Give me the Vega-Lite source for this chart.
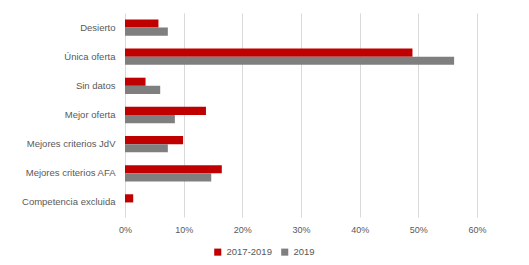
{
  "$schema": "https://vega.github.io/schema/vega-lite/v6.json",
  "width": 352,
  "height": 204,
  "autosize": {"type": "none"},
  "padding": {"left": 125, "top": 13, "right": 52, "bottom": 48},
  "background": "white",
  "data": {
    "values": [
      {"cat": "Desierto", "serie": "2017-2019", "v": 0.057},
      {"cat": "Desierto", "serie": "2019", "v": 0.073},
      {"cat": "Única oferta", "serie": "2017-2019", "v": 0.490},
      {"cat": "Única oferta", "serie": "2019", "v": 0.561},
      {"cat": "Sin datos", "serie": "2017-2019", "v": 0.035},
      {"cat": "Sin datos", "serie": "2019", "v": 0.060},
      {"cat": "Mejor oferta", "serie": "2017-2019", "v": 0.138},
      {"cat": "Mejor oferta", "serie": "2019", "v": 0.085},
      {"cat": "Mejores criterios JdV", "serie": "2017-2019", "v": 0.099},
      {"cat": "Mejores criterios JdV", "serie": "2019", "v": 0.073},
      {"cat": "Mejores criterios AFA", "serie": "2017-2019", "v": 0.165},
      {"cat": "Mejores criterios AFA", "serie": "2019", "v": 0.147},
      {"cat": "Competencia excluida", "serie": "2017-2019", "v": 0.014},
      {"cat": "Competencia excluida", "serie": "2019", "v": 0.0}
    ]
  },
  "mark": {"type": "bar"},
  "encoding": {
    "y": {
      "field": "cat", "type": "nominal", "sort": null, "title": null,
      "scale": {"paddingInner": 0.44, "paddingOuter": 0.22},
      "axis": {"domain": false, "ticks": false, "labelPadding": 10, "labelColor": "#595959", "labelFont": "Liberation Sans", "labelFontSize": 9.5, "grid": false}
    },
    "yOffset": {"field": "serie", "type": "nominal"},
    "x": {
      "field": "v", "type": "quantitative", "title": null,
      "scale": {"domain": [0, 0.6], "nice": false},
      "axis": {"format": ".0%", "tickCount": 7, "values": [0, 0.1, 0.2, 0.3, 0.4, 0.5, 0.6], "labelOverlap": false, "labelFlush": false, "labelBound": false, "domain": false, "ticks": false, "labelPadding": 8, "labelColor": "#595959", "labelFont": "Liberation Sans", "labelFontSize": 9, "gridColor": "#D9D9D9", "gridWidth": 1}
    },
    "color": {
      "field": "serie", "type": "nominal", "title": null,
      "scale": {"domain": ["2017-2019", "2019"], "range": ["#C00000", "#7F7F7F"]},
      "legend": {"orient": "none", "legendX": 88, "legendY": 234, "direction": "horizontal", "symbolType": "square", "symbolSize": 50, "labelColor": "#595959", "labelFont": "Liberation Sans", "labelFontSize": 9.5, "columnPadding": 8, "symbolStrokeWidth": 0}
    }
  },
  "config": {"view": {"stroke": null}}
}
